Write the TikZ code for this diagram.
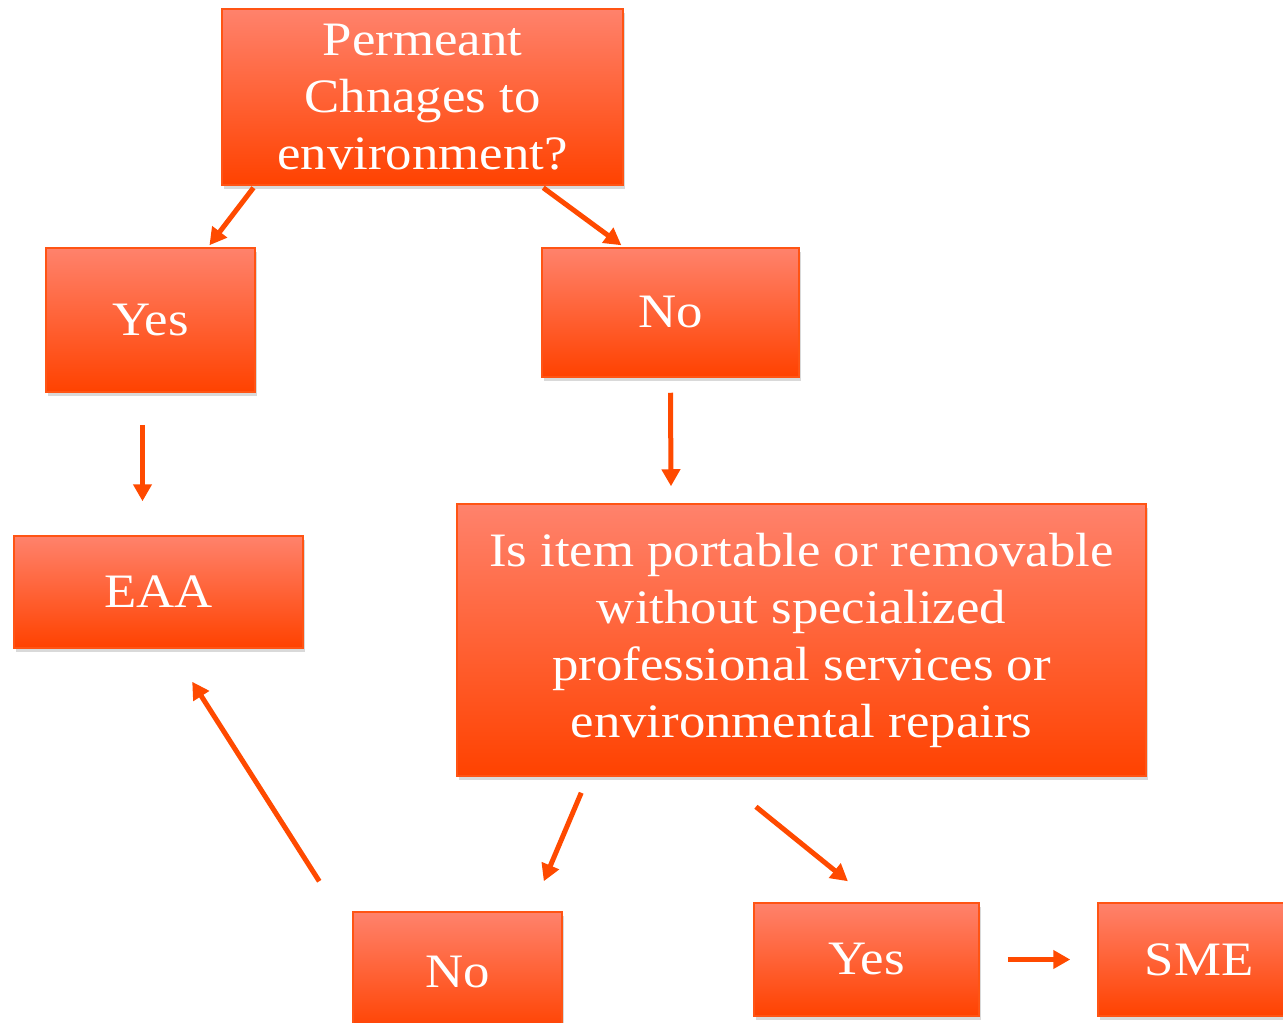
\documentclass[tikz,border=0pt]{standalone}
\usepackage{fontspec}
\setmainfont[FakeStretch=1.1]{Liberation Serif}
\usetikzlibrary{calc,shadows,arrows.meta}
\definecolor{boxtop}{HTML}{FF826C}
\definecolor{boxmid}{HTML}{FF7660}
\definecolor{boxbot}{HTML}{FF4200}
\definecolor{boxline}{HTML}{FF5414}
\definecolor{arrowc}{HTML}{FF4A00}

\begin{document}
\begin{tikzpicture}[x=1pt,y=-1pt]  % une unite = un pixel
\tikzstyle{boite}=[draw=boxline,line width=1.5pt,top color=boxtop,middle color=boxmid,bottom color=boxbot,
  text=white,align=center,inner sep=0pt,font=\fontsize{48}{57}\selectfont,
  drop shadow={shadow xshift=2pt,shadow yshift=-4pt,opacity=0.3}]
\tikzstyle{fleche}=[draw=arrowc,line width=5pt,-{Triangle[length=17pt,width=18pt]}]
\useasboundingbox (0,0) rectangle (1283,1023);

\node[boite,minimum width=401,minimum height=176] (top) at (422.5,97) {Permeant\\Chnages to\\environment?};
\node[boite,minimum width=209,minimum height=144] (yes1) at (150.5,320) {Yes};
\node[boite,minimum width=257,minimum height=129] (no1) at (670.5,312.5) {No};
\node[boite,minimum width=289,minimum height=112] (eaa) at (158.5,592) {EAA};
\node[boite,minimum width=689,minimum height=272] (big) at (801.5,640)
  {Is item portable or removable\\without specialized\\professional services or\\environmental repairs};
\node[boite,minimum width=209,minimum height=120] (no2) at (457.5,972) {No};
\node[boite,minimum width=225,minimum height=113] (yes2) at (866.5,959.5) {Yes};
\node[boite,minimum width=202,minimum height=113] (sme) at (1199,959.5) {SME};

\draw[fleche] ($(top.south west)!0.08!(top.south east)+(0,2)$) -- ($(yes1.north west)!0.78!(yes1.north east)+(0,-2)$);
\draw[fleche] ($(top.south west)!0.80!(top.south east)+(0,2)$) -- ($(no1.north west)!0.31!(no1.north east)+(0,-2)$);
\draw[fleche] ($(yes1.south)+(-8,32)$) -- ($(eaa.north)+(-16,-34)$);
\draw[fleche] ($(no1.south)+(0,15)$) -- ($(big.north)+(-130.5,-17)$);
\draw[fleche] ($(big.south west)!0.181!(big.south east)+(0,16)$) -- ($(no2.north west)!0.91!(no2.north east)+(0,-30)$);
\draw[fleche] ($(big.south west)!0.434!(big.south east)+(0,30)$) -- ($(yes2.north west)!0.418!(yes2.north east)+(0,-21)$);
\draw[fleche] ($(no2.north west)+(-33,-30)$) -- ($(eaa.south west)!0.616!(eaa.south east)+(0,33)$);
\draw[fleche] ($(yes2.east)+(28,0)$) -- ($(sme.west)+(-27,0)$);
\end{tikzpicture}
\end{document}
